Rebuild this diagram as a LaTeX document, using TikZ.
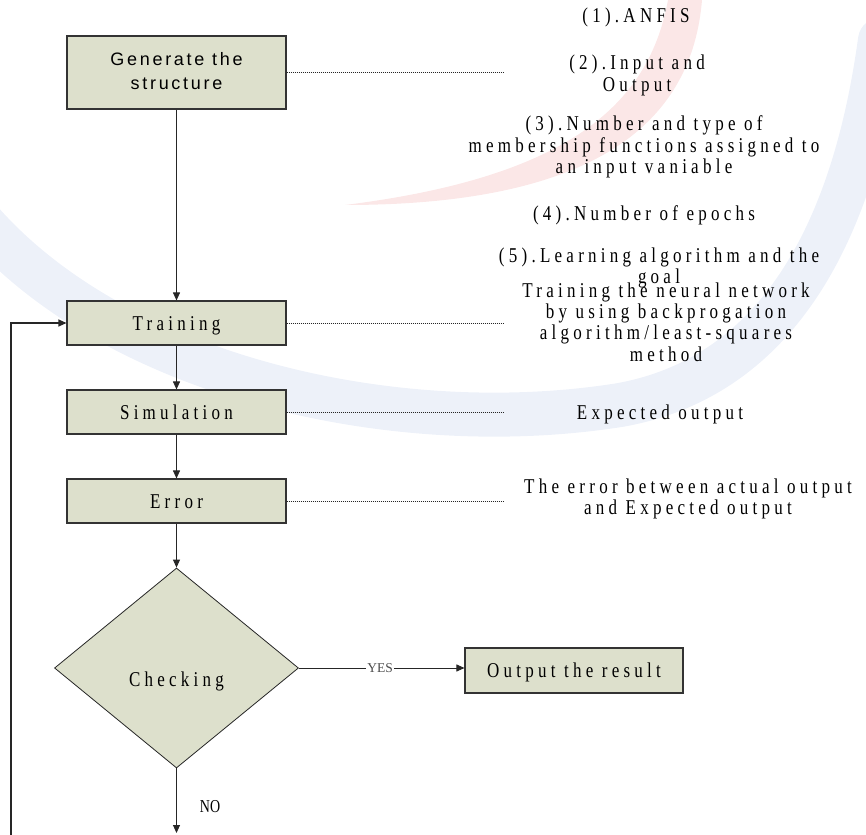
\documentclass[tikz,border=0pt]{standalone}
\usepackage{fontspec}
\usepackage{graphicx}
\setmainfont{Liberation Serif}
\newfontfamily\spacedserif[LetterSpace=25]{Liberation Serif}
\newfontfamily\spacedsans[LetterSpace=15]{Liberation Sans}
\usetikzlibrary{arrows.meta,shapes.geometric}

% vertically stretched text, and a centred block of stretched lines
\newcommand{\tallbox}[2][1.24]{\scalebox{1}[#1]{#2}}
\newcommand{\linesblock}[1]{\tallbox{\begin{tabular}[t]{@{}c@{}}#1\end{tabular}}}

\definecolor{boxfill}{RGB}{221,224,204}
\definecolor{wmblue}{RGB}{237,241,249}
\definecolor{wmred}{RGB}{251,231,231}

\begin{document}
\begin{tikzpicture}[x=1pt,y=-1pt,
  serifbody/.style={font=\spacedserif\fontsize{17}{17.3}\selectfont},
  flowbox/.style={draw=black!80, line width=1.1pt, fill=boxfill,
    minimum width=219pt, minimum height=44pt, inner sep=0pt, serifbody},
  oneline/.style={text height=14pt, text depth=0pt},
  checkshape/.style={diamond, draw=black!85, line width=0.8pt, fill=boxfill,
    aspect=1.22, minimum width=244pt, minimum height=200pt, inner sep=0pt,
    serifbody, text height=36pt, text depth=0pt},
  note/.style={serifbody, inner sep=0pt, anchor=base},
  flow/.style={draw=black!85, line width=0.9pt, -{Triangle[length=8pt,width=7pt]}},
  plainline/.style={draw=black!85, line width=0.9pt},
  dotline/.style={draw=black!85, line width=0.8pt, dash pattern=on 1pt off 1pt}]

\useasboundingbox (0,0) rectangle (866,834);

% faint logo in the background
\draw[wmblue, line width=44pt, line cap=round]
  (-20,220) .. controls (120,380) and (400,440) .. (620,405)
            .. controls (760,380) and (850,260) .. (880,40);
\fill[wmred]
  (702,0) .. controls (692,120) and (600,205) .. (345,205)
          .. controls (560,178) and (648,110) .. (668,0) -- cycle;

% flow chart boxes
\node[flowbox, minimum height=73pt, font=\spacedsans\fontsize{18}{24}\selectfont] (gen) at (176.5,72.5)
  {\begin{tabular}{@{}c@{}}Generate the\\structure\end{tabular}};
\node[flowbox, oneline] (train) at (176.5,323) {\tallbox{Training}};
\node[flowbox, oneline] (sim) at (176.5,412) {\tallbox{Simulation}};
\node[flowbox, oneline] (err) at (176.5,501) {\tallbox{Error}};
\node[checkshape] (chk) at (176.5,668) {\tallbox{Checking}};
\node[flowbox, oneline, minimum width=218pt, minimum height=45pt] (out) at (574,670.5)
  {\tallbox{Output the result}};

% branch labels
\node[inner sep=1pt, text=black!70, font=\fontsize{13.5}{14}\selectfont] (yes) at (380,668) {YES};
\node[anchor=base, inner sep=0pt, font=\fontsize{14}{15}\selectfont] (no) at (210,812) {\tallbox[1.3]{NO}};

% free ends of connectors
\coordinate (nobottom) at (176.5,833);
\coordinate (loopbase) at (11,836);
\coordinate (d1) at (504,72.5);
\coordinate (d2) at (504,323);
\coordinate (d3) at (504,412);
\coordinate (d4) at (504,501);

% main flow
\draw[flow] (gen) -- (train);
\draw[flow] (train) -- (sim);
\draw[flow] (sim) -- (err);
\draw[flow] (err) -- (chk.north);
\draw[plainline] (chk.east) -- (yes.west);
\draw[flow] (yes.east) -- (yes.east -| out.west);
\draw[flow] (chk.south) -- (nobottom);
\draw[flow, line width=1.2pt] (loopbase) |- (train.west);

% dotted leaders to the notes
\draw[dotline] (gen.east) -- (d1);
\draw[dotline] (train.east) -- (d2);
\draw[dotline] (sim.east) -- (d3);
\draw[dotline] (err.east) -- (d4);

% notes
\node[note] (n1) at (636,23) {\linesblock{(1).ANFIS}};
\node[note] (n2) at (637,70) {\linesblock{(2).Input and\\Output}};
\node[note] (n3) at (644,131) {\linesblock{(3).Number and type of\\membership functions assigned to\\an input vaniable}};
\node[note] (n4) at (644,220) {\linesblock{(4).Number of epochs}};
\node[note] (n5) at (659,262) {\linesblock{(5).Learning algorithm and the\\goal}};
\node[note] (n6) at (666,297) {\linesblock{Training the neural network\\by using backprogation\\algorithm/least-squares\\method}};
\node[note] (n7) at (660,419) {\linesblock{Expected output}};
\node[note] (n8) at (688,493) {\linesblock{The error between actual output\\and Expected output}};
\end{tikzpicture}
\end{document}
